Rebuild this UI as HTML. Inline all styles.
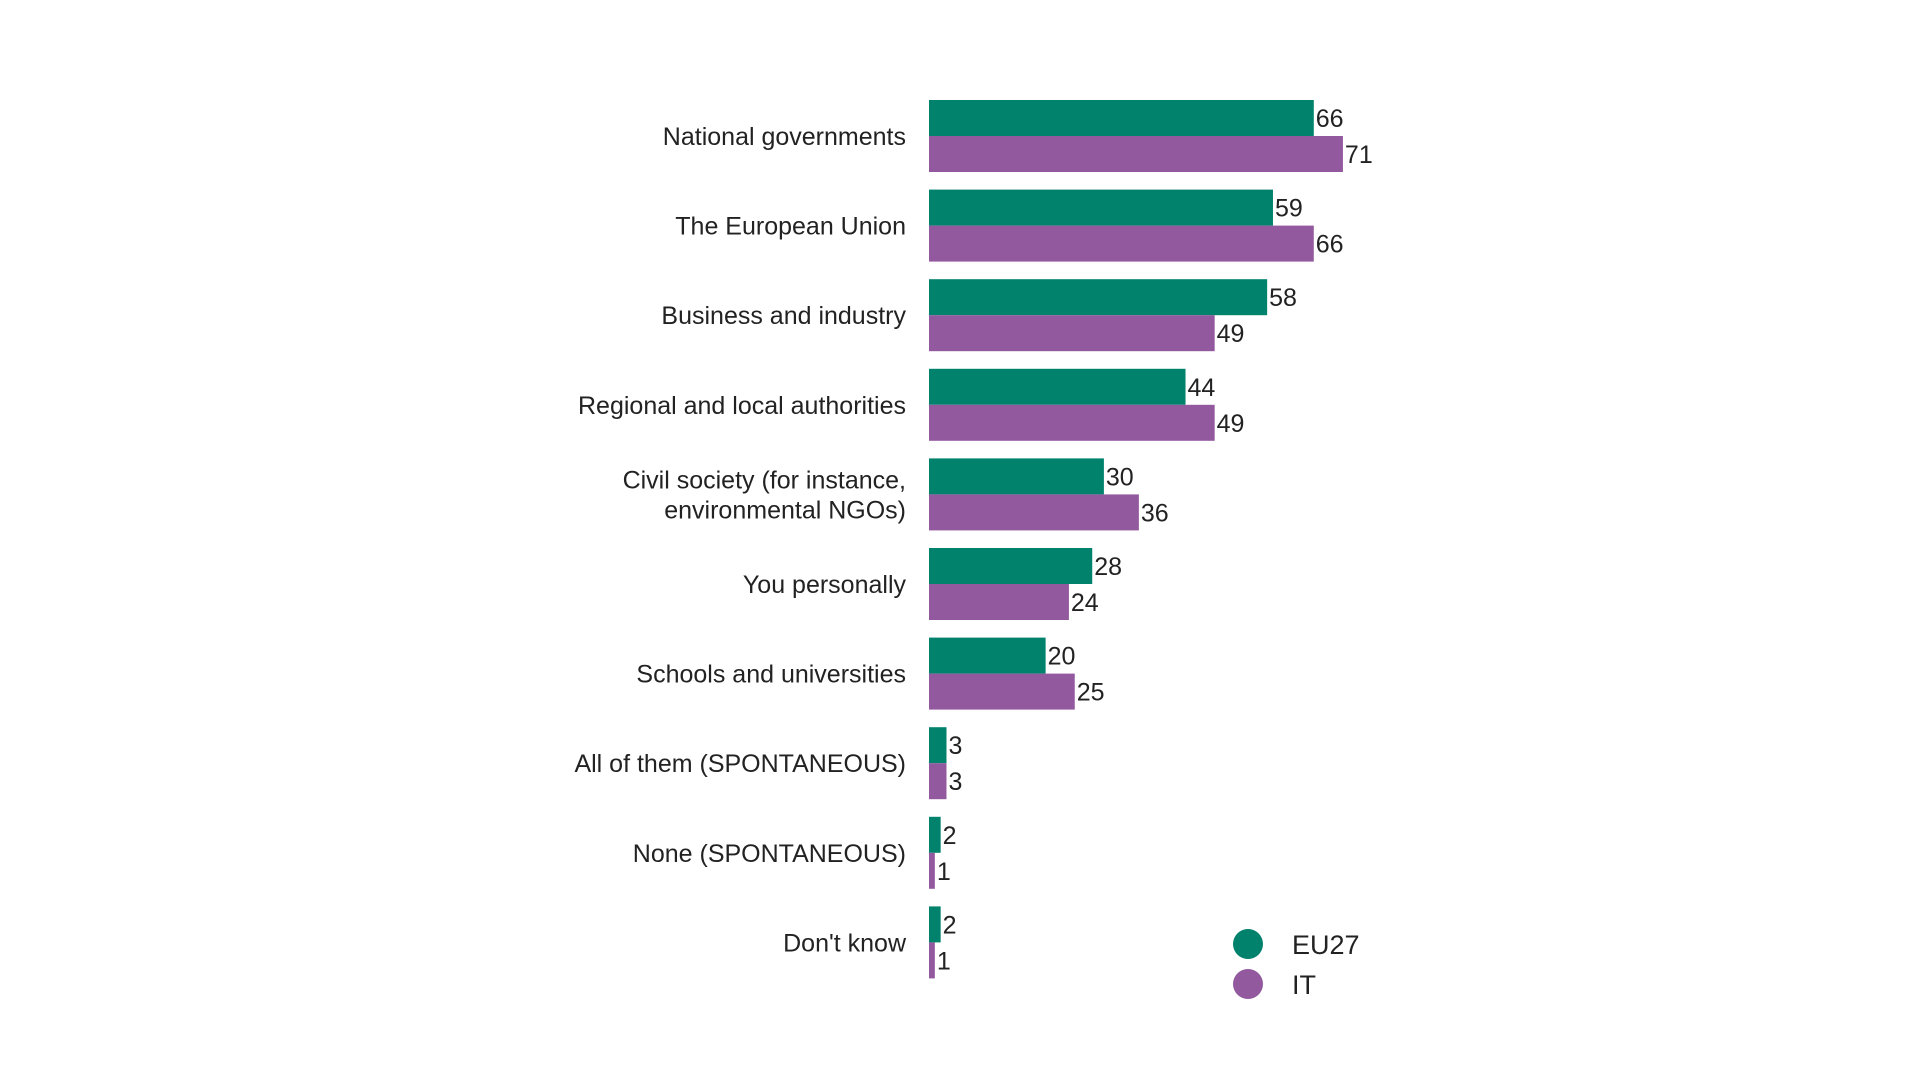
<!DOCTYPE html>
<html><head><meta charset="utf-8"><style>
html,body{margin:0;padding:0;background:#fff;}
svg text{font-family:"Liberation Sans",sans-serif;fill:#222;}
</style></head><body>
<svg width="1920" height="1080" viewBox="0 0 1920 1080" xmlns="http://www.w3.org/2000/svg">
<g id="plot"></g>
<g>
<g><circle cx="1248" cy="944" r="15" fill="#00826c"/><text x="1292" y="954" font-size="27">EU27</text></g>
<g><circle cx="1248" cy="984" r="15" fill="#93599e"/><text x="1292" y="994" font-size="27">IT</text></g>
</g>
</svg>
<script>
const categories = [["National governments"],["The European Union"],["Business and industry"],["Regional and local authorities"],["Civil society (for instance,","environmental NGOs)"],["You personally"],["Schools and universities"],["All of them (SPONTANEOUS)"],["None (SPONTANEOUS)"],["Don't know"]];
const eu27 = [66,59,58,44,30,28,20,3,2,2];
const it = [71,66,49,49,36,24,25,3,1,1];
const NS="http://www.w3.org/2000/svg";
const g=document.getElementById('plot');
const x0=929, unit=5.83, top0=100, pitch=89.6, bh=36;
const xs=v=>x0+v*unit;
function mk(t,a){const e=document.createElementNS(NS,t);for(const k in a)e.setAttribute(k,a[k]);g.appendChild(e);return e;}
categories.forEach((lines,i)=>{
  const top=top0+i*pitch, c=top+bh;
  const lab=mk('text',{x:906,'text-anchor':'end','font-size':25});
  
  
  lines.forEach((l,j)=>{const ts=document.createElementNS(NS,'tspan');ts.setAttribute('x',906);ts.setAttribute('y',c+9+(j-(lines.length-1)/2)*30);ts.textContent=l;lab.appendChild(ts);});
  [[eu27,'#00826c',top,'eu27'],[it,'#93599e',top+bh,'it']].forEach(([arr,col,y,nm])=>{
    const r=mk('rect',{x:x0,y:y,width:xs(arr[i])-x0,height:bh,fill:col});
    
    
    const t=mk('text',{x:xs(arr[i])+2,y:y+bh/2+9,'font-size':25});
    
    
    t.textContent=arr[i];
  });
});
</script>
</body></html>
